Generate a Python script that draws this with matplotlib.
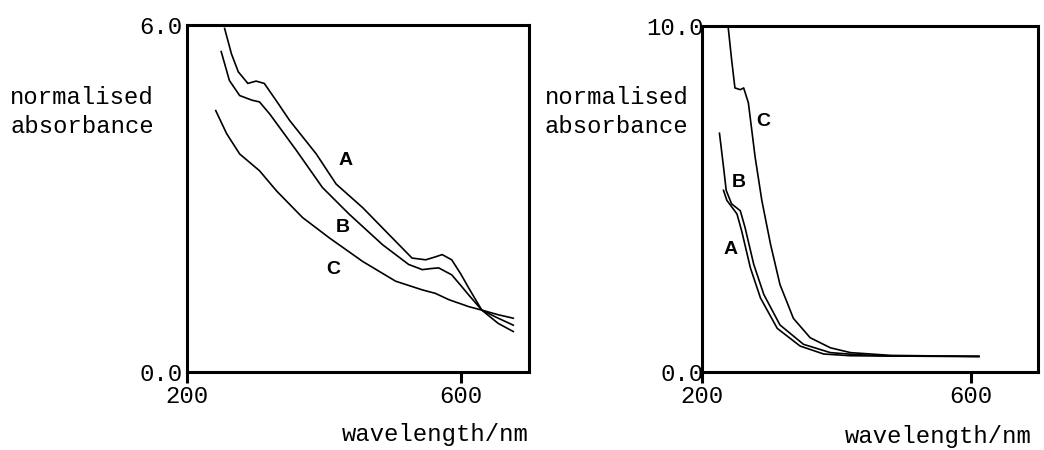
import matplotlib
matplotlib.use("Agg")
import matplotlib.pyplot as plt

# left panel: spectra (wavelength / nm, normalised absorbance)
l_wave_a = [255, 265, 275, 289, 301, 313, 330, 350, 389, 418, 457, 495, 529, 549, 563, 573, 587, 600, 612, 631, 655, 677]
l_abs_a = [5.94, 5.5, 5.19, 4.99, 5.03, 4.99, 4.7, 4.35, 3.77, 3.25, 2.84, 2.38, 1.97, 1.94, 1.99, 2.03, 1.94, 1.7, 1.45, 1.07, 0.84, 0.70]
l_wave_b = [250, 262, 277, 295, 306, 321, 360, 398, 437, 486, 524, 544, 558, 568, 587, 600, 612, 631, 655, 677]
l_abs_b = [5.54, 5.04, 4.78, 4.7, 4.67, 4.46, 3.83, 3.19, 2.73, 2.20, 1.86, 1.77, 1.79, 1.80, 1.68, 1.5, 1.33, 1.07, 0.93, 0.81]
l_wave_c = [242, 258, 277, 306, 331, 369, 408, 457, 505, 544, 563, 583, 612, 631, 655, 677]
l_abs_c = [4.52, 4.12, 3.77, 3.48, 3.13, 2.67, 2.32, 1.91, 1.57, 1.42, 1.36, 1.25, 1.13, 1.07, 0.99, 0.93]

# right panel
r_wave_a = [232, 237, 252, 259, 272, 287, 312, 346, 381, 421, 481, 612]
r_abs_a = [5.25, 4.96, 4.57, 4.08, 3.01, 2.14, 1.26, 0.75, 0.52, 0.47, 0.46, 0.45]
r_wave_b = [226, 232, 236, 244, 257, 264, 277, 292, 316, 351, 391, 431, 481, 612]
r_abs_b = [6.90, 5.93, 5.25, 4.86, 4.66, 4.18, 3.11, 2.24, 1.36, 0.80, 0.56, 0.50, 0.46, 0.45]
r_wave_c = [239, 244, 249, 257, 262, 269, 279, 289, 302, 316, 336, 361, 391, 421, 481, 612]
r_abs_c = [9.96, 9.04, 8.21, 8.16, 8.21, 7.78, 6.22, 4.96, 3.69, 2.53, 1.55, 0.99, 0.70, 0.56, 0.48, 0.45]

mono = "Liberation Mono"
fs = 17.2
lw = 1.2
lab = dict(fontsize=14, fontweight="bold", family="Liberation Sans", ha="center", va="center")

fig = plt.figure(figsize=(10.44, 4.5), dpi=100)
ax1 = fig.add_axes([187 / 1044, 78 / 450, 342 / 1044, 347 / 450])
ax2 = fig.add_axes([702 / 1044, 78 / 450, 336 / 1044, 346 / 450])

ax1.plot(l_wave_a, l_abs_a, color="black", lw=lw)
ax1.plot(l_wave_b, l_abs_b, color="black", lw=lw)
ax1.plot(l_wave_c, l_abs_c, color="black", lw=lw)
ax1.set_ylim(0, 6)
ax1.set_yticks([0, 6])
ax1.set_yticklabels(["0.0", "6.0"])
ax1.text(432, 3.65, "A", **lab)
ax1.text(427, 2.49, "B", **lab)
ax1.text(414, 1.77, "C", **lab)

ax2.plot(r_wave_a, r_abs_a, color="black", lw=lw)
ax2.plot(r_wave_b, r_abs_b, color="black", lw=lw)
ax2.plot(r_wave_c, r_abs_c, color="black", lw=lw)
ax2.set_ylim(0, 10)
ax2.set_yticks([0, 10])
ax2.set_yticklabels(["0.0", "10.0"])
ax2.text(291, 7.24, "C", **lab)
ax2.text(255, 5.49, "B", **lab)
ax2.text(242, 3.55, "A", **lab)

for ax, ypad in ((ax1, 3), (ax2, -1)):
    ax.set_xlim(200, 700)
    ax.set_xticks([200, 600])
    ax.set_xticklabels(["200", "600"])
    for s in ax.spines.values():
        s.set_linewidth(2.2)
    ax.tick_params(axis="x", length=8, width=2.2, pad=1.5, labelsize=fs)
    ax.tick_params(axis="y", length=0, pad=ypad, labelsize=fs)
    for t in ax.get_xticklabels() + ax.get_yticklabels():
        t.set_family(mono)

# axis titles as free text, like the original layout
fig.text(10 / 1044, 1 - 98 / 450, "normalised", family=mono, fontsize=fs, ha="left", va="center")
fig.text(10 / 1044, 1 - 127 / 450, "absorbance", family=mono, fontsize=fs, ha="left", va="center")
fig.text(545 / 1044, 1 - 98 / 450, "normalised", family=mono, fontsize=fs, ha="left", va="center")
fig.text(545 / 1044, 1 - 127 / 450, "absorbance", family=mono, fontsize=fs, ha="left", va="center")
fig.text(342 / 1044, 1 - 435 / 450, "wavelength/nm", family=mono, fontsize=fs, ha="left", va="center")
fig.text(845 / 1044, 1 - 437 / 450, "wavelength/nm", family=mono, fontsize=fs, ha="left", va="center")

fig.savefig("out.png", dpi=100)
